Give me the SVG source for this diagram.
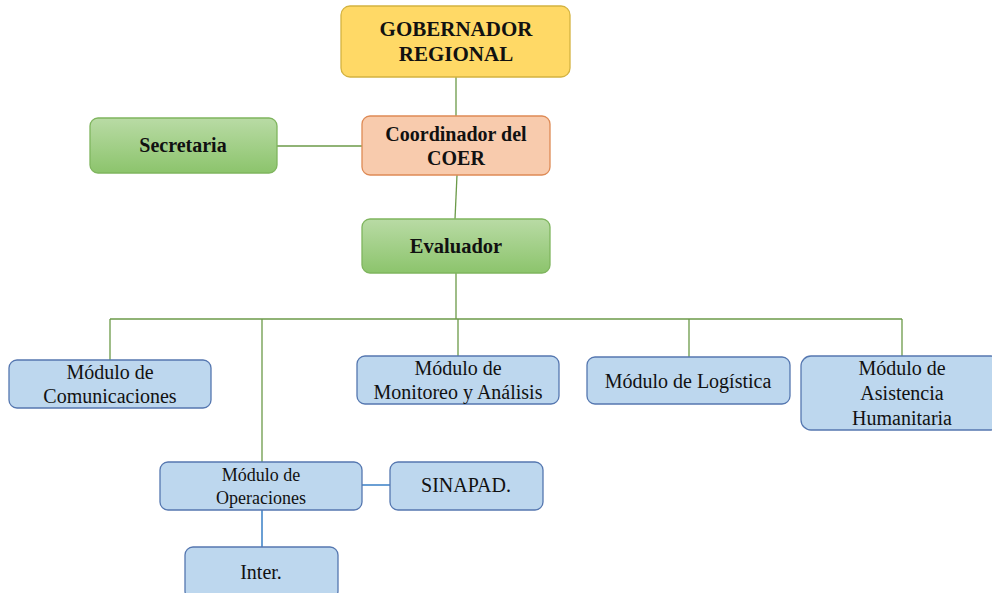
<svg xmlns="http://www.w3.org/2000/svg" width="992" height="593" viewBox="0 0 992 593">
<defs>
<linearGradient id="gg" x1="0" y1="0" x2="0" y2="1"><stop offset="0" stop-color="#b9dba5"/><stop offset="1" stop-color="#8cc46c"/></linearGradient>
<style>
text{font-family:'Liberation Serif','DejaVu Serif',serif;fill:#111;text-anchor:middle}
.b{font-weight:bold}
.blue{fill:#bdd7ee;stroke:#5577b0;stroke-width:1.3}
.green{fill:url(#gg);stroke:#7fb55e;stroke-width:1.3}
.gl{stroke:#6b9a48;stroke-width:1.3;fill:none}
.bl{stroke:#6a9fd4;stroke-width:2;fill:none}
</style>
</defs>
<rect width="992" height="593" fill="#fff"/>
<g id="connectors">
<line class="gl" x1="456" y1="77" x2="456" y2="116"/>
<line class="gl" x1="457" y1="175" x2="455" y2="219"/>
<line class="gl" x1="277" y1="146" x2="362" y2="146"/>
<line class="gl" x1="456" y1="273" x2="456" y2="319"/>
<line class="gl" x1="110" y1="319" x2="902" y2="319"/>
<line class="gl" x1="110" y1="319" x2="110" y2="360"/>
<line class="gl" x1="262" y1="319" x2="262" y2="462"/>
<line class="gl" x1="458" y1="319" x2="458" y2="356"/>
<line class="gl" x1="689" y1="319" x2="689" y2="357"/>
<line class="gl" x1="902" y1="319" x2="902" y2="356"/>
<line class="bl" x1="362" y1="485" x2="390" y2="485"/>
<line class="bl" x1="262" y1="510" x2="262" y2="547"/>
</g>
<g id="gobernador">
<rect x="341" y="6" width="229" height="71" rx="9" fill="#ffd966" stroke="#d4b340" stroke-width="1.3"/>
<text class="b" x="456" y="36" font-size="21">GOBERNADOR</text>
<text class="b" x="456" y="61" font-size="21">REGIONAL</text>
</g>
<g id="coordinador">
<rect x="362" y="116" width="188" height="59" rx="8" fill="#f8cbad" stroke="#de8a55" stroke-width="1.3"/>
<text class="b" x="456" y="141" font-size="20">Coordinador del</text>
<text class="b" x="456" y="165" font-size="20">COER</text>
</g>
<g id="secretaria">
<rect class="green" x="90" y="118" width="187" height="55" rx="8"/>
<text class="b" x="183" y="152" font-size="20">Secretaria</text>
</g>
<g id="evaluador">
<rect class="green" x="362" y="219" width="188" height="54" rx="8"/>
<text class="b" x="456" y="253" font-size="20.5">Evaluador</text>
</g>
<g id="comunicaciones">
<rect class="blue" x="9" y="360" width="202" height="48" rx="8"/>
<text x="110" y="379" font-size="20">Módulo de</text>
<text x="110" y="403" font-size="20">Comunicaciones</text>
</g>
<g id="monitoreo">
<rect class="blue" x="357" y="356" width="202" height="48" rx="8"/>
<text x="458" y="375" font-size="20">Módulo de</text>
<text x="458" y="399" font-size="20">Monitoreo y Análisis</text>
</g>
<g id="logistica">
<rect class="blue" x="587" y="357" width="203" height="47" rx="8"/>
<text x="688" y="388" font-size="20">Módulo de Logística</text>
</g>
<g id="asistencia">
<rect class="blue" x="801" y="356" width="200" height="74" rx="10"/>
<text x="902" y="375" font-size="20">Módulo de</text>
<text x="902" y="400" font-size="20">Asistencia</text>
<text x="902" y="425" font-size="20">Humanitaria</text>
</g>
<g id="operaciones">
<rect class="blue" x="160" y="462" width="202" height="48" rx="8"/>
<text x="261" y="481" font-size="18">Módulo de</text>
<text x="261" y="504" font-size="18">Operaciones</text>
</g>
<g id="sinapad">
<rect class="blue" x="390" y="462" width="153" height="48" rx="8"/>
<text x="466" y="492" font-size="20">SINAPAD.</text>
</g>
<g id="inter">
<rect class="blue" x="185" y="547" width="153" height="52" rx="8"/>
<text x="261" y="579" font-size="20">Inter.</text>
</g>
</svg>
